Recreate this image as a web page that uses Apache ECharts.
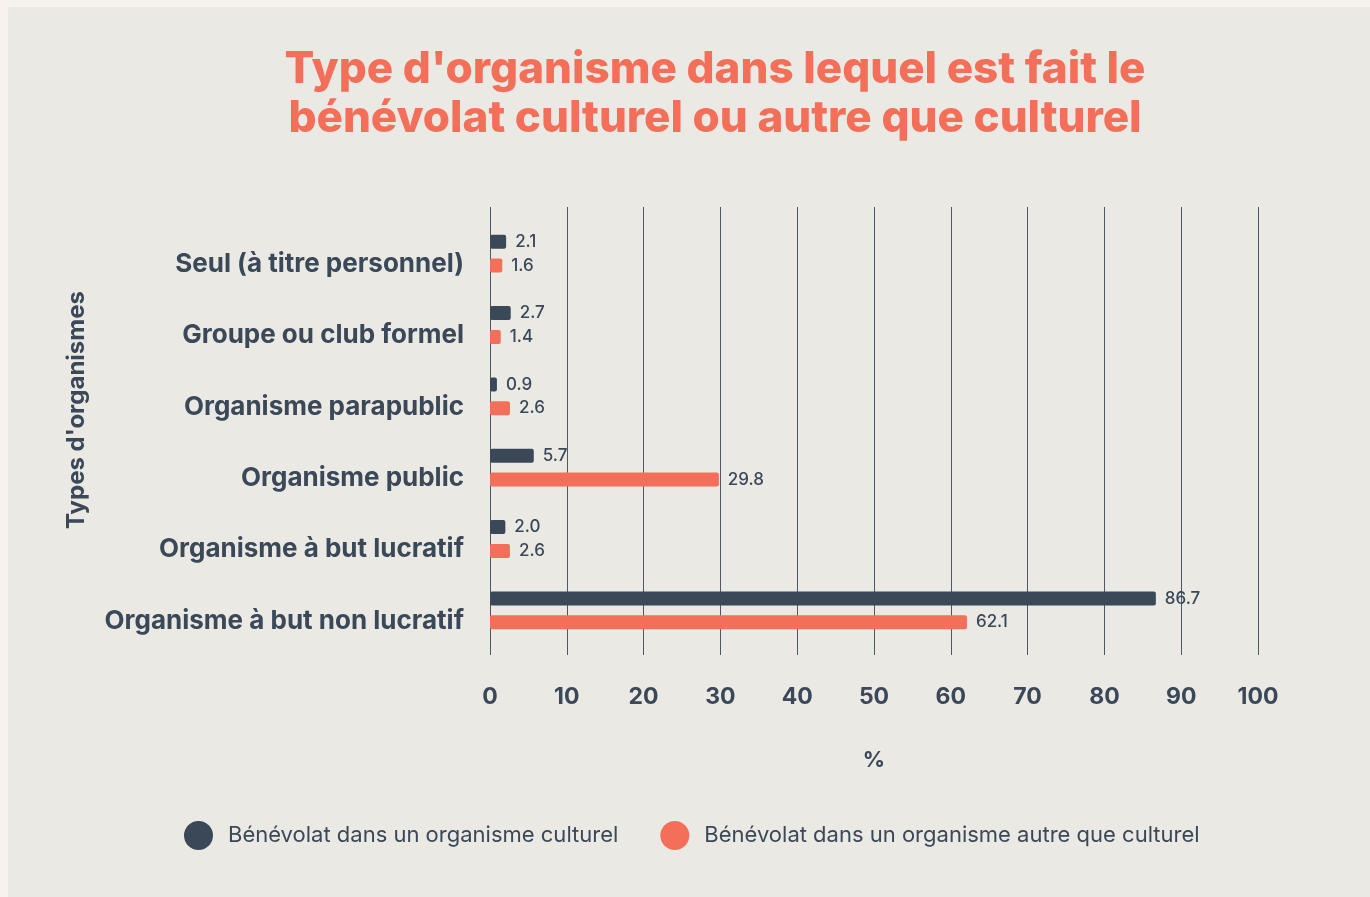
<!DOCTYPE html>
<html lang="fr">
<head>
<meta charset="utf-8">
<title>Type d'organisme - bénévolat</title>
<script src="https://cdn.jsdelivr.net/npm/echarts@6/dist/echarts.min.js"></script>
<style>
  html, body { margin: 0; padding: 0; background: #f7f3eb; }
  #panel { position: absolute; left: 8px; top: 7px; right: 0; bottom: 0; background: #ebe9e4; }
  #chart { position: absolute; left: 0; top: 0; width: 1370px; height: 897px; }
</style>
</head>
<body>
<div id="panel"></div>
<div id="chart"></div>
<script>
// Données
const categories = [
  'Seul (à titre personnel)',
  'Groupe ou club formel',
  'Organisme parapublic',
  'Organisme public',
  'Organisme à but lucratif',
  'Organisme à but non lucratif'
];
const culturel = [2.1, 2.7, 0.9, 5.7, 2.0, 86.7];
const autre = [1.6, 1.4, 2.6, 29.8, 2.6, 62.1];
const seriesNames = [
  'Bénévolat dans un organisme culturel',
  'Bénévolat dans un organisme autre que culturel'
];

const dark = '#3a4858';
const orange = '#f46f59';
const fontFamily = 'Inter, "Noto Sans", sans-serif';

const chart = echarts.init(document.getElementById('chart'), null, { renderer: 'canvas' });

// étiquettes des barres
const barLabel = {
  show: true,
  position: 'right',
  distance: 9,
  color: dark,
  fontSize: 17,
  fontWeight: 500,
  fontFamily: fontFamily,
  formatter: p => p.value.toFixed(1)
};

const option = {
  backgroundColor: 'transparent',
  textStyle: { fontFamily: fontFamily },
  graphic: [
    {
      type: 'text',
      x: 715, y: 45,
      style: {
        text: "Type d'organisme dans lequel est fait le\nbénévolat culturel ou autre que culturel",
        align: 'center',
        verticalAlign: 'top',
        fill: orange,
        font: '800 44px ' + fontFamily,
        lineHeight: 49
      }
    },
    {
      type: 'text',
      x: 77, y: 410,
      rotation: Math.PI / 2,
      style: {
        text: "Types d'organismes",
        align: 'center',
        verticalAlign: 'middle',
        fill: dark,
        font: '700 24px ' + fontFamily
      }
    },
    {
      type: 'text',
      x: 874, y: 760,
      style: {
        text: '%',
        align: 'center',
        verticalAlign: 'middle',
        fill: dark,
        font: '700 22px ' + fontFamily
      }
    }
  ],
  legend: {
    left: 179,
    top: 816,
    icon: 'circle',
    itemWidth: 29,
    itemHeight: 29,
    itemGap: 42,
    data: seriesNames,
    textStyle: {
      color: dark,
      fontSize: 22,
      fontFamily: fontFamily,
      padding: [0, 0, 0, 10]
    }
  },
  grid: [
    { left: 490, right: 112, top: 218, height: 428 },
    { left: 490, right: 112, top: 207, height: 448 }
  ],
  xAxis: [
    {
      gridIndex: 0,
      type: 'value',
      min: 0, max: 100, interval: 10,
      show: false
    },
    {
      gridIndex: 1,
      type: 'value',
      min: 0, max: 100, interval: 10,
      axisLine: { show: false },
      axisTick: { show: false },
      splitLine: { show: true, lineStyle: { color: '#4d5866', width: 1 } },
      axisLabel: {
        margin: 31,
        color: dark,
        fontSize: 23,
        fontWeight: 700,
        fontFamily: fontFamily
      }
    }
  ],
  yAxis: [
    {
      gridIndex: 0,
      type: 'category',
      inverse: true,
      data: categories,
      axisLine: { show: false },
      axisTick: { show: false },
      axisLabel: {
        margin: 26,
        color: dark,
        fontSize: 26,
        fontWeight: 700,
        fontFamily: fontFamily,
        verticalAlign: 'top',
        lineHeight: 21
      }
    },
    {
      gridIndex: 1,
      type: 'value',
      min: 0, max: 1,
      show: false
    }
  ],
  series: [
    {
      name: seriesNames[0],
      type: 'bar',
      xAxisIndex: 0,
      yAxisIndex: 0,
      data: culturel,
      barWidth: 14,
      barGap: '70%',
      itemStyle: { color: dark, borderRadius: 2 },
      label: barLabel
    },
    {
      name: seriesNames[1],
      type: 'bar',
      xAxisIndex: 0,
      yAxisIndex: 0,
      data: autre,
      barWidth: 14,
      barGap: '70%',
      itemStyle: { color: orange, borderRadius: 2 },
      label: barLabel
    }
  ]
};

chart.setOption(option);
</script>
</body>
</html>
